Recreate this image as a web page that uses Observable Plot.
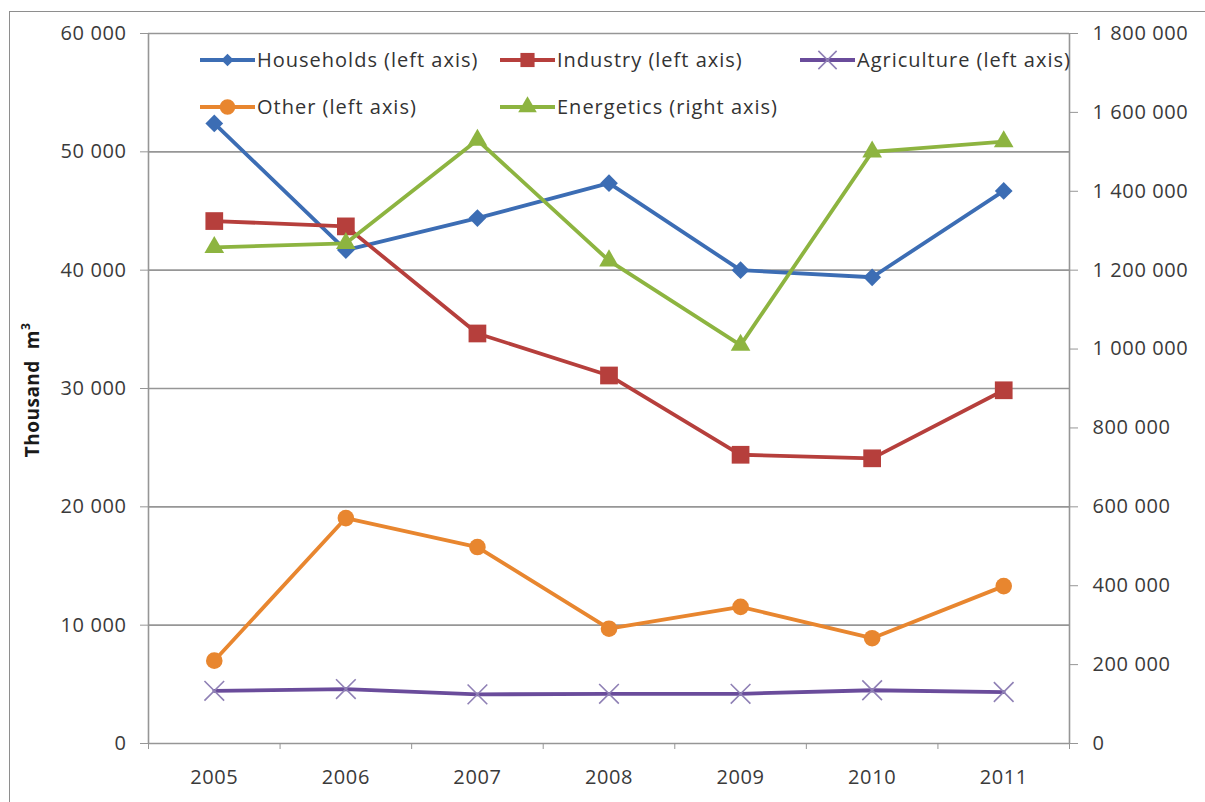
<!DOCTYPE html>
<html>
<head>
<meta charset="utf-8">
<script src="https://cdn.jsdelivr.net/npm/d3@7"></script>
<script src="https://cdn.jsdelivr.net/npm/@observablehq/plot@0.6"></script>
<style>
  html, body { margin: 0; padding: 0; background: #fff; }
  body { width: 1205px; height: 802px; position: relative; overflow: hidden; font-family: "Open Sans", sans-serif; }
  #frame { position: absolute; left: 9px; top: 11px; width: 1400px; height: 1000px; border: 1.5px solid #8e8e8e; box-sizing: border-box; }
  #chart { position: absolute; left: 0; top: 0; }
  #chart svg text { letter-spacing: 0.6px; }
  #legend { position: absolute; left: 0; top: 0; pointer-events: none; }
  #ytitle { position: absolute; left: 32px; top: 390px; transform: translate(-50%, -50%) rotate(-90deg); font-weight: 700; font-size: 19px; color: #1a1a1a; white-space: pre; letter-spacing: 0.5px; }
</style>
</head>
<body>
<div id="frame"></div>
<div id="chart"></div>
<svg id="legend" width="1205" height="802"></svg>
<div id="ytitle">Thousand  m<sup style="font-size:12px;vertical-align:9px;line-height:0">3</sup></div>
<script>
// ---- data ----
const years = [2005, 2006, 2007, 2008, 2009, 2010, 2011];
const households = [52400, 41700, 44400, 47350, 40000, 39400, 46700];
const industry = [44150, 43700, 34650, 31100, 24400, 24100, 29850];
const agriculture = [4450, 4600, 4150, 4200, 4200, 4500, 4350];
const other = [7000, 19050, 16600, 9700, 11550, 8900, 13300];
const energetics = [1258000, 1268000, 1530000, 1224000, 1010000, 1500000, 1526000];
const leftTicks = [0, 10000, 20000, 30000, 40000, 50000, 60000];
const rightTicks = [0, 200000, 400000, 600000, 800000, 1000000, 1200000, 1400000, 1600000, 1800000];
const seriesNames = ["Households (left axis)", "Industry (left axis)", "Agriculture (left axis)", "Other (left axis)", "Energetics (right axis)"];
const ratio = 30; // right axis max / left axis max

const colors = {
  households: "#3c6db4",
  industry: "#b63f3c",
  agriculture: "#6a4c9b",
  agricultureMark: "#8f80b5",
  other: "#e8862f",
  energetics: "#8db440"
};

const fmt = d3.formatLocale({decimal: ",", thousands: " ", grouping: [3], currency: ["", ""]}).format(",");
const gray = "#969696";
const textColor = "#3a3a3a";

const rows = (vals, scale = 1) => years.map((y, i) => ({year: y, value: vals[i] / scale}));
const H = rows(households), I = rows(industry), A = rows(agriculture), O = rows(other), E = rows(energetics, ratio);
const bounds = d3.range(years.length + 1).map(i => years[0] - 0.5 + i);

const lw = 3.8;
const chart = Plot.plot({
  width: 1205,
  height: 802,
  marginLeft: 148,
  marginRight: 136,
  marginTop: 33,
  marginBottom: 59,
  style: {fontFamily: "'Open Sans', sans-serif", fontSize: "20px", background: "transparent", overflow: "visible"},
  x: {domain: [bounds[0], bounds[bounds.length - 1]]},
  y: {domain: [0, 60000]},
  marks: [
    Plot.ruleY(leftTicks.slice(1), {stroke: gray, strokeWidth: 1.6}),
    Plot.ruleY([0], {stroke: gray, strokeWidth: 1.6}),
    Plot.ruleX([bounds[0], bounds[bounds.length - 1]], {stroke: gray, strokeWidth: 1.6}),
    Plot.axisY(leftTicks, {anchor: "left", tickSize: 8, tickPadding: 14, tickFormat: fmt, stroke: gray, fill: textColor, label: null}),
    Plot.axisY(rightTicks.map(d => d / ratio), {anchor: "right", tickSize: 8, tickPadding: 15, tickFormat: d => fmt(Math.round(d * ratio)), stroke: gray, fill: textColor, label: null}),
    Plot.axisX(bounds, {anchor: "bottom", tickSize: 6, tickFormat: () => "", stroke: gray, label: null}),
    Plot.axisX(years, {anchor: "bottom", tickSize: 0, tickPadding: 26, tickFormat: d => String(d), fill: textColor, label: null}),
    // Households
    Plot.line(H, {x: "year", y: "value", stroke: colors.households, strokeWidth: lw}),
    Plot.dot(H, {x: "year", y: "value", symbol: "diamond2", r: 8, fill: colors.households}),
    // Industry
    Plot.line(I, {x: "year", y: "value", stroke: colors.industry, strokeWidth: lw}),
    Plot.dot(I, {x: "year", y: "value", symbol: "square", r: 10, fill: colors.industry}),
    // Agriculture
    Plot.line(A, {x: "year", y: "value", stroke: colors.agriculture, strokeWidth: lw}),
    Plot.dot(A, {x: "year", y: "value", symbol: "times", r: 9, stroke: colors.agricultureMark, strokeWidth: 1.6}),
    // Other
    Plot.line(O, {x: "year", y: "value", stroke: colors.other, strokeWidth: lw}),
    Plot.dot(O, {x: "year", y: "value", symbol: "circle", r: 8.3, fill: colors.other}),
    // Energetics (right axis)
    Plot.line(E, {x: "year", y: "value", stroke: colors.energetics, strokeWidth: lw}),
    Plot.dot(E, {x: "year", y: "value", symbol: "triangle", r: 7.3, fill: colors.energetics})
  ]
});
document.getElementById("chart").appendChild(chart);

// ---- legend (overlay inside plot area, two rows) ----
const legendItems = [
  {name: seriesNames[0], color: colors.households, symbol: d3.symbolDiamond2, size: 100, fill: true, x: 200, y: 60},
  {name: seriesNames[1], color: colors.industry, symbol: d3.symbolSquare, size: 200, fill: true, x: 500, y: 60},
  {name: seriesNames[2], color: colors.agriculture, mark: colors.agricultureMark, symbol: d3.symbolTimes, size: 220, fill: false, x: 800, y: 60},
  {name: seriesNames[3], color: colors.other, symbol: d3.symbolCircle, size: 190, fill: true, x: 200, y: 107},
  {name: seriesNames[4], color: colors.energetics, symbol: d3.symbolTriangle, size: 150, fill: true, x: 500, y: 107}
];
const leg = d3.select("#legend");
for (const it of legendItems) {
  const g = leg.append("g").attr("transform", `translate(${it.x},${it.y})`);
  g.append("line").attr("x1", 0).attr("x2", 55).attr("y1", 0).attr("y2", 0)
    .attr("stroke", it.color).attr("stroke-width", 3.8);
  const p = g.append("path").attr("transform", "translate(27.5,0)")
    .attr("d", d3.symbol(it.symbol, it.size)());
  if (it.fill) p.attr("fill", it.color);
  else p.attr("fill", "none").attr("stroke", it.mark).attr("stroke-width", 1.6);
  g.append("text").attr("x", 57).attr("y", 0).attr("dy", "0.35em")
    .attr("font-family", "'Open Sans', sans-serif").attr("font-size", 20)
    .attr("letter-spacing", "1px")
    .attr("fill", "#333").text(it.name);
}
</script>
</body>
</html>
